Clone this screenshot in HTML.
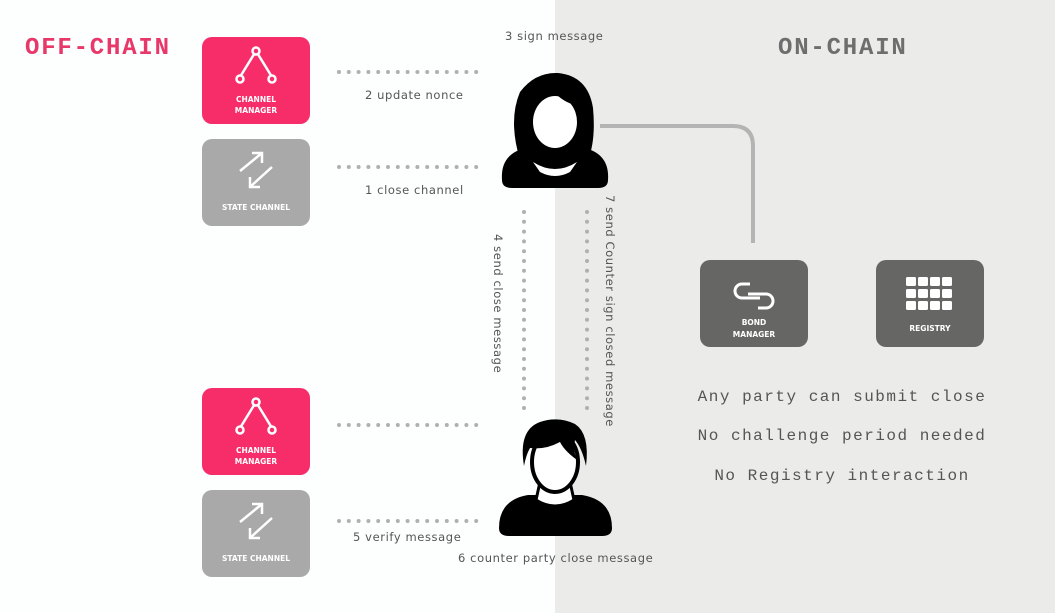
<!DOCTYPE html>
<html><head><meta charset="utf-8"><style>
html,body{margin:0;padding:0;width:1055px;height:613px;overflow:hidden;background:#fff}
svg{display:block}
text{font-family:"DejaVu Sans","Liberation Sans",sans-serif}
text.mono{font-family:"Liberation Mono","DejaVu Sans Mono",monospace}
</style></head><body>
<svg width="1055" height="613" viewBox="0 0 1055 613" xmlns="http://www.w3.org/2000/svg">
<rect x="0" y="0" width="555" height="613" fill="#fdfefe"/>
<rect x="555" y="0" width="500" height="613" fill="#ebecea"/>

<text x="25" y="54" class="mono" font-size="24" font-weight="bold" letter-spacing="1.8" fill="#e8386a">OFF-CHAIN</text>
<text x="778" y="54" class="mono" font-size="24" font-weight="bold" letter-spacing="1.8" fill="#6e6e6e">ON-CHAIN</text>

<path d="M600 126 H733 Q753 126 753 146 V243" fill="none" stroke="#b4b4b4" stroke-width="4"/>

<g stroke="#b0b0b0" stroke-width="4" stroke-linecap="round" stroke-dasharray="0 9.8">
<line x1="339" y1="72" x2="485" y2="72"/>
<line x1="339" y1="167" x2="485" y2="167"/>
<line x1="339" y1="425" x2="485" y2="425"/>
<line x1="339" y1="521" x2="485" y2="521"/>
<line x1="524" y1="212" x2="524" y2="408"/>
<line x1="587" y1="212" x2="587" y2="408"/>
</g>

<g font-size="11.5" fill="#555" letter-spacing="0.6">
<text x="505" y="40">3 sign message</text>
<text x="365" y="99">2 update nonce</text>
<text x="365" y="194">1 close channel</text>
<text x="353" y="541">5 verify message</text>
<text x="458" y="562">6 counter party close message</text>
<text transform="translate(494,234) rotate(90)">4 send close message</text>
<text transform="translate(606,195) rotate(90)">7 send Counter sign closed message</text>
</g>

<g font-size="16" fill="#555" letter-spacing="1.5">
<text class="mono" x="842" y="401" text-anchor="middle">Any party can submit close</text>
<text class="mono" x="842" y="440" text-anchor="middle">No challenge period needed</text>
<text class="mono" x="842" y="480" text-anchor="middle">No Registry interaction</text>
</g>

<defs>
<g id="cm">
<rect x="0" y="0" width="108" height="87" rx="10" fill="#f72d69"/>
<path d="M38 40 L54 14 L70 40" fill="none" stroke="#fff" stroke-width="2.5"/>
<circle cx="54" cy="14" r="3.5" fill="#f72d69" stroke="#fff" stroke-width="2.5"/>
<circle cx="38" cy="42" r="3.5" fill="#f72d69" stroke="#fff" stroke-width="2.5"/>
<circle cx="70" cy="42" r="3.5" fill="#f72d69" stroke="#fff" stroke-width="2.5"/>
<text x="54" y="65" text-anchor="middle" font-size="7.5" font-weight="bold" fill="#fff">CHANNEL</text>
<text x="54" y="76" text-anchor="middle" font-size="7.5" font-weight="bold" fill="#fff">MANAGER</text>
</g>
<g id="sc">
<rect x="0" y="0" width="108" height="87" rx="10" fill="#a9a9a9"/>
<g stroke="#fff" stroke-width="2.5" fill="none">
<path d="M38 32 L60 14 M50 14 H60 V24"/>
<path d="M70 28 L48 48 M48 38 V48 H58"/>
</g>
<text x="54" y="71" text-anchor="middle" font-size="7.5" font-weight="bold" fill="#fff">STATE CHANNEL</text>
</g>
</defs>
<use href="#cm" x="202" y="37"/>
<use href="#sc" x="202" y="139"/>
<use href="#cm" x="202" y="388"/>
<use href="#sc" x="202" y="490"/>

<g transform="translate(700,260)">
<rect width="108" height="87" rx="10" fill="#666664"/>
<g fill="none" stroke="#fff" stroke-width="3">
<path d="M50 24 H42 a7 7 0 0 0 0 14 H60"/>
<path d="M58 48 H66 a7 7 0 0 0 0 -14 H48"/>
</g>
<text x="54" y="65" text-anchor="middle" font-size="7.5" font-weight="bold" fill="#fff">BOND</text>
<text x="54" y="77" text-anchor="middle" font-size="7.5" font-weight="bold" fill="#fff">MANAGER</text>
</g>
<g transform="translate(876,260)">
<rect width="108" height="87" rx="10" fill="#666664"/>
<g fill="#fff">
<rect x="30" y="17" width="10" height="9" rx="1.5"/><rect x="42" y="17" width="10" height="9" rx="1.5"/><rect x="54" y="17" width="10" height="9" rx="1.5"/><rect x="66" y="17" width="10" height="9" rx="1.5"/>
<rect x="30" y="29" width="10" height="9" rx="1.5"/><rect x="42" y="29" width="10" height="9" rx="1.5"/><rect x="54" y="29" width="10" height="9" rx="1.5"/><rect x="66" y="29" width="10" height="9" rx="1.5"/>
<rect x="30" y="41" width="10" height="9" rx="1.5"/><rect x="42" y="41" width="10" height="9" rx="1.5"/><rect x="54" y="41" width="10" height="9" rx="1.5"/><rect x="66" y="41" width="10" height="9" rx="1.5"/>
</g>
<text x="54" y="71" text-anchor="middle" font-size="7.5" font-weight="bold" fill="#fff">REGISTRY</text>
</g>

<!-- woman -->
<g>
<path d="M520 160 Q508 120 520 92 Q535 72 558 73 Q588 76 593 108 Q596 140 588 160 Z" fill="#000"/>
<path d="M502 180 Q500 152 530 147 L580 147 Q610 152 608 180 Q608 188 598 188 L512 188 Q502 188 502 180 Z" fill="#000"/>
<ellipse cx="555" cy="122" rx="22" ry="26" fill="#fff"/>
<path d="M532 112 Q540 96 556 94 Q566 104 580 106 Q578 88 556 86 Q534 88 532 112 Z" fill="#000"/>
<path d="M533 162 Q555 176 577 162 L570 172 Q555 180 540 172 Z" fill="#fff"/>
</g>
<!-- man -->
<g>
<path d="M499 528 Q499 500 528 495 L582 495 Q612 500 612 528 Q612 536 602 536 L509 536 Q499 536 499 528 Z" fill="#000"/>
<path d="M540 482 L570 482 L574 500 Q555 512 536 500 Z" fill="#fff" stroke="#000" stroke-width="3"/>
<ellipse cx="555" cy="462" rx="23" ry="30" fill="#fff" stroke="#000" stroke-width="4"/>
<path d="M524 466 Q518 430 540 422 Q558 416 575 424 Q590 434 586 466 Q582 448 575 440 Q572 455 580 462 Q565 452 560 442 Q545 450 530 448 Q526 455 524 466 Z" fill="#000"/>
</g>
</svg>
</body></html>
